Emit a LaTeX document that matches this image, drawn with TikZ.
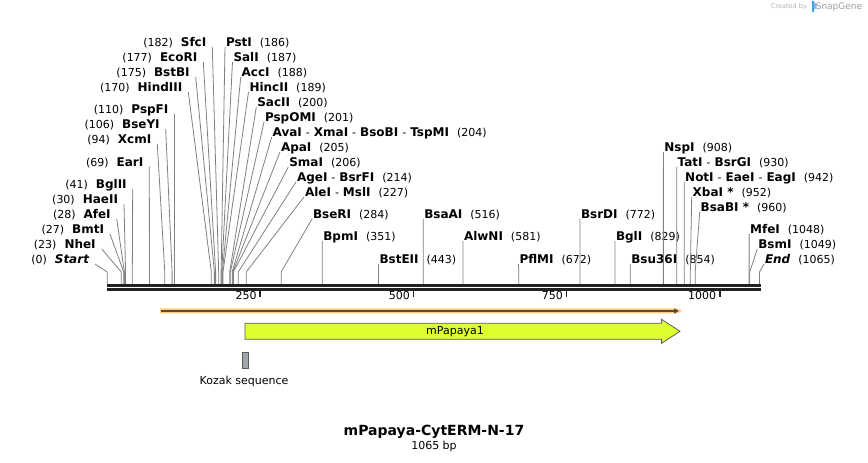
\documentclass[tikz,border=0pt]{standalone}
\usepackage{fontspec}
\setmainfont{DejaVu Sans}
\usepackage{xcolor}
\usetikzlibrary{arrows.meta}

\definecolor{backbone}{HTML}{222222}
\definecolor{cutgray}{HTML}{808080}
\definecolor{bandorange}{HTML}{FFCC80}
\definecolor{darkline}{HTML}{5C4A36}
\definecolor{papaya}{HTML}{E0FF2E}
\definecolor{featgray}{HTML}{5A5A5A}
\definecolor{kozakgray}{HTML}{A2A7AE}
\definecolor{sgblue}{HTML}{3A9FE0}

\newcommand\numf{\fontsize{11}{13}\selectfont\mdseries\upshape}
\newcommand\enzf{\fontsize{12}{14}\selectfont\bfseries}
\newcommand\dsh{{\numf\hspace{4pt}-\hspace{4pt}}}

\tikzset{
  cut/.style={cutgray, line width=0.8pt},
  leftlab/.style={anchor=base east, inner xsep=6pt, inner ysep=0pt, outer sep=0pt},
  rightlab/.style={anchor=base west, inner xsep=1pt, inner ysep=0pt, outer sep=0pt},
}

\begin{document}
\begin{tikzpicture}[x=1pt, y=1pt]
    \useasboundingbox (0,0) rectangle (868,463);
    \draw[line width=2.7pt, backbone] (107,177.65) -- (761,177.65);
    \draw[line width=2.7pt, backbone] (107,173.65) -- (761,173.65);
    \foreach \tk in {250,500,750,1000} {
        \draw[line width=1.8pt, backbone] ({107.2+0.6125*\tk},173) -- ++(0,-7);
        \node[anchor=base east, inner sep=0pt] (t\tk) at ({107.2+0.6125*\tk-3.5},163) {\numf\tk};
    }
    \foreach \p/\txt/\lx/\ly in {0/{\itshape Start}/95/199, 23/NheI/101.7/214, 27/BmtI/110/229,
        28/AfeI/116.7/244, 30/HaeII/124/259, 41/BglII/132.7/274, 69/EarI/149.3/296.5,
        94/XcmI/157.3/319, 106/BseYI/165.7/334, 110/PspFI/174.4/349, 170/HindIII/188.3/371,
        175/BstBI/195.7/386, 177/EcoRI/203.3/401, 182/SfcI/212.3/416} {
        \coordinate (s\p) at ({107.2+0.6125*\p},179);
        \node[leftlab] (e\p) at (\lx,\ly) {\numf(\p)\hspace{8pt}\enzf\txt};
        \draw[cut] (e\p.base east) -- ([yshift=12pt]s\p) -- (s\p);
    }
    \foreach \p/\txt/\lx/\ly in {186/PstI/225/416, 187/SalI/232.5/401, 188/AccI/240.7/386,
        189/HincII/248.5/371, 200/SacII/256.3/356, 201/PspOMI/264/341,
        204/{AvaI\dsh XmaI\dsh BsoBI\dsh TspMI}/271.7/326, 205/ApaI/280/311, 206/SmaI/288.3/296,
        214/{AgeI\dsh BsrFI}/296/281, 227/{AleI\dsh MslI}/304/266, 284/BseRI/312/244,
        351/BpmI/322.3/222, 443/BstEII/378.5/199, 516/BsaAI/423.3/244, 581/AlwNI/463/222,
        672/PflMI/518.5/199, 772/BsrDI/580/244, 829/BglI/615/222, 854/Bsu36I/630.3/199,
        908/NspI/663.4/311, 930/{TatI\dsh BsrGI}/676.7/296, 942/{NotI\dsh EaeI\dsh EagI}/684.2/281,
        952/{XbaI *}/691.7/266, 960/{BsaBI *}/699.7/251, 1048/MfeI/749.1/229,
        1049/BsmI/757.3/214, 1065/{\itshape End}/764/199} {
        \coordinate (s\p) at ({107.2+0.6125*\p},179);
        \node[rightlab] (e\p) at (\lx,\ly) {\enzf\txt\numf\hspace{8pt}(\p)};
        \draw[cut] (e\p.base west) -- ([yshift=12pt]s\p) -- (s\p);
    }
    \fill[bandorange] (160,149.5) -- (677,149.5) -- (682,152) -- (677,154.5) -- (160,154.5) -- cycle;
    \draw[darkline, line width=1.4pt, -{Triangle[length=5pt,width=5pt]}] (161,152) -- (679,152);
    \draw[fill=papaya, draw=featgray, line width=0.8pt] (245,139.7) -- (661.5,139.7) -- (661.5,143.7)
        -- (680,131.7) -- (661.5,119.7) -- (661.5,123.7) -- (245,123.7) -- cycle;
    \node (mp) at (455,131.7) {\fontsize{11}{13}\selectfont mPapaya1};
    \draw[fill=kozakgray, draw=featgray, line width=0.8pt] (242.3,94.7) rectangle (248.7,110.7);
    \node (kz) at (244,81.7) {\fontsize{11}{13}\selectfont Kozak sequence};
    \node (ttl) at (434,31.5) {\fontsize{14}{16}\selectfont\bfseries mPapaya-CytERM-N-17};
    \node (len) at (434,17) {\numf 1065 bp};
    \node[gray!60] (cb) at (789,456) {\fontsize{6.5}{8}\selectfont Created by};
    \fill[sgblue] (811.5,450.5) rectangle (813.5,461.5);
    \fill[sgblue!70] (813.5,461.5) -- (816.5,459) -- (816.5,455) -- (813.5,453) -- cycle;
    \node[gray!75] (sg) at (839,456) {\fontsize{9}{10}\selectfont SnapGene};
\end{tikzpicture}
\end{document}
